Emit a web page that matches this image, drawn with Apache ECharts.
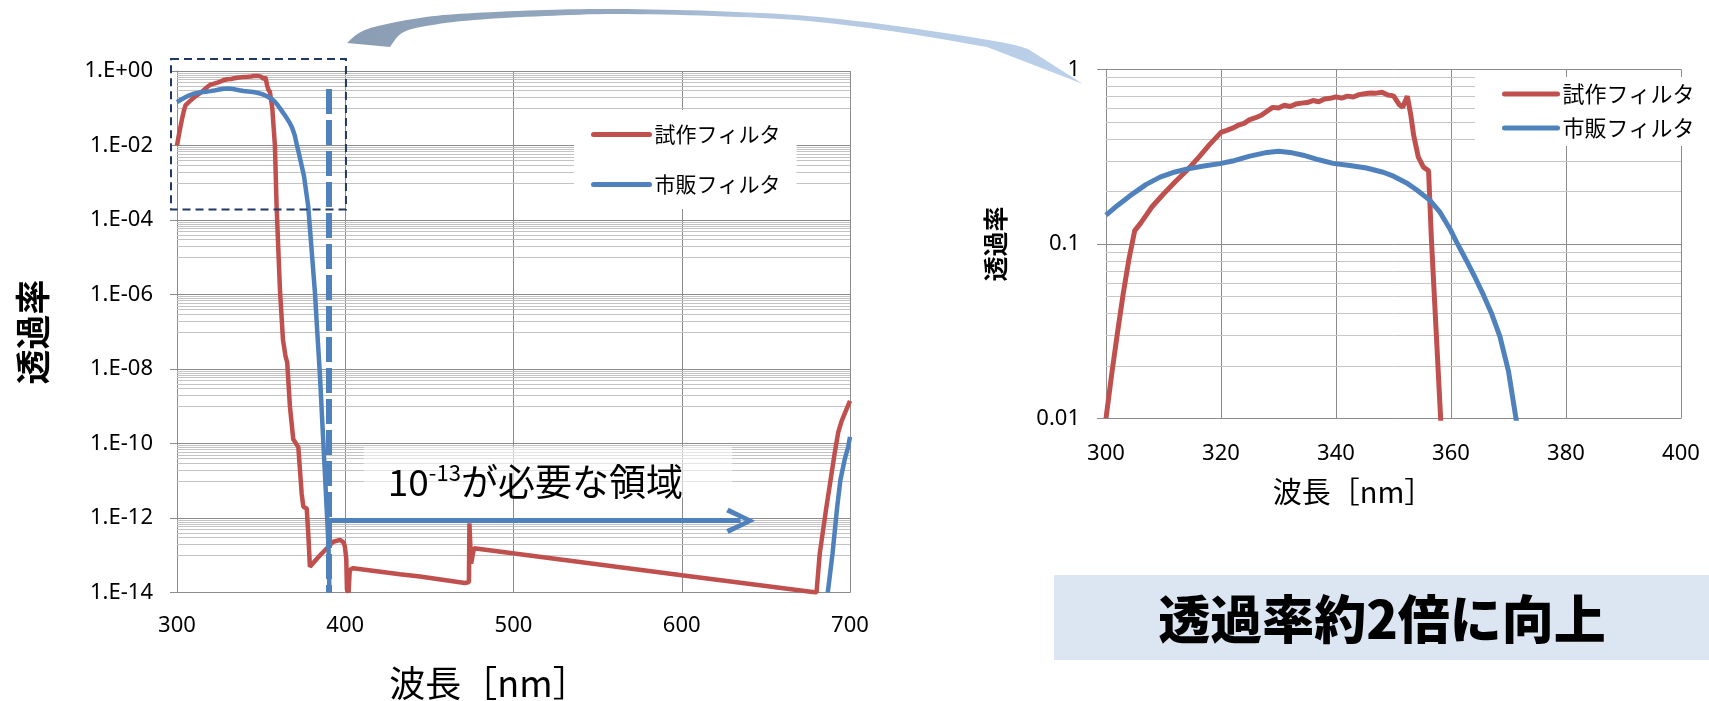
<!DOCTYPE html>
<html>
<head>
<meta charset="utf-8">
<script src="https://cdn.jsdelivr.net/npm/echarts@6/dist/echarts.min.js"></script>
<style>
  html, body { margin: 0; padding: 0; background: #ffffff; }
  #chart { width: 1709px; height: 701px; }
</style>
</head>
<body>
<div id="chart"></div>
<script>
// ---- data: wavelength [nm], transmittance ----
const prototypeFilter = [
  [300, 0.0100], [301, 0.018], [302, 0.031], [303, 0.052], [304, 0.082], [305, 0.119],
  [306, 0.131], [307, 0.146], [308, 0.163], [310, 0.193], [312, 0.226], [314, 0.262],
  [316, 0.31], [318, 0.37], [320, 0.435], [321, 0.447], [322, 0.46], [323, 0.478],
  [324, 0.49], [325, 0.515], [326, 0.528], [327, 0.545], [328, 0.575], [329, 0.605],
  [330, 0.600], [331, 0.622], [332, 0.612], [333, 0.632], [334, 0.640], [335, 0.645],
  [336, 0.662], [337, 0.652], [338, 0.676], [339, 0.682], [340, 0.695], [341, 0.684],
  [342, 0.702], [343, 0.694], [344, 0.716], [345, 0.724], [346, 0.732], [347, 0.730],
  [348, 0.738], [349, 0.712], [350, 0.704], [351, 0.628], [351.6, 0.605], [352.4, 0.70],
  [353.0, 0.55], [353.5, 0.42], [354.3, 0.315], [355.2, 0.275], [356.1, 0.262],
  [356.6, 0.105], [357.5, 0.028], [358.2, 0.0100], [359.2, 2.3e-4], [361.2, 1.3e-6],
  [363.0, 6e-8], [364.5, 2.2e-8], [365.5, 1.5e-8], [367.1, 1.0e-9], [369.1, 1.3e-10],
  [372.1, 8e-11], [374.1, 4.5e-12], [375.1, 2.0e-12], [377.1, 1.8e-12], [378.0, 3.9e-13],
  [379.0, 4.9e-14], [385.0, 1.0e-13], [392.9, 2.3e-13], [396.9, 2.6e-13], [399.0, 2.2e-13],
  [399.8, 1.7e-13], [400.6, 8e-14], [401.0, 1.2e-14], [402.0, 1.0e-14], [402.6, 3.5e-14],
  [403.2, 4.2e-14], [404.8, 4.5e-14], [432.5, 3.1e-14], [444.4, 2.7e-14], [471.1, 1.8e-14],
  [473.5, 1.9e-14], [473.8, 7.2e-13], [474.4, 7.2e-13], [474.8, 6.0e-14], [475.5, 5.8e-14],
  [476.5, 1.55e-13], [600.0, 2.9e-14], [680.1, 1.0e-14], [682.0, 1.1e-13], [686.0, 2.0e-12],
  [690.9, 5.5e-11], [693.0, 2.0e-10], [695.0, 4.0e-10], [700.0, 1.4e-9]
];

const commercialFilter = [
  [300, 0.146], [302, 0.166], [304.7, 0.194], [307, 0.219], [309.4, 0.241], [312, 0.258],
  [314, 0.268], [317, 0.279], [319.8, 0.288], [322, 0.298], [325, 0.318], [328, 0.334],
  [330, 0.339], [332, 0.334], [334.3, 0.322], [337, 0.303], [339.5, 0.289], [342.4, 0.281],
  [345.3, 0.272], [348.2, 0.257], [350, 0.244], [352.2, 0.224], [354, 0.204], [356.3, 0.178],
  [358, 0.153], [359.8, 0.122], [361, 0.102], [362.7, 0.080], [364, 0.066], [365.6, 0.0513],
  [367, 0.0403], [368.5, 0.0295], [370, 0.0186], [371.3, 0.0100], [372.5, 6.0e-3], [375.5, 1.5e-3],
  [378, 2.3e-4], [380, 1.6e-5], [382, 1.1e-6], [383.5, 8e-8], [385, 6.2e-9], [386.5, 2.8e-10],
  [388, 1.3e-11], [389, 1.6e-12], [390, 2.1e-13], [390.6, 1.0e-14], [391, null],
  [686.8, 1.0e-14], [689.6, 1.1e-13], [692.4, 2.0e-12], [694.3, 1.05e-11], [697.0, 4.0e-11],
  [698.9, 8.0e-11], [700.0, 1.5e-10]
];

const seriesNames = ['試作フィルタ', '市販フィルタ'];
const wideYTickLabels = ['1.E+00', '1.E-02', '1.E-04', '1.E-06', '1.E-08', '1.E-10', '1.E-12', '1.E-14'];
const zoomYTickLabels = ['1', '0.1', '0.01'];
const axisTitleX = '波長［nm］';
const axisTitleY = '透過率';

// annotation values on the wide chart
const cutoffWavelength = 390.3;     // vertical dashed marker
const cutoffTop = 0.33;
const requiredLevel = 8.5e-13;      // 10^-13 requirement arrow
const requiredEnd = 635;
const noteParts = ['10', '-13', 'が必要な領域'];
const resultText = '透過率約2倍に向上';

const RED = '#C0504D';
const BLUE = '#4F81BD';
const MAJOR = '#8C8C8C';
const MINOR = '#C3C3C3';
const LATIN = "'Noto Sans', 'Noto Sans CJK JP', sans-serif";
const CJK = "'Noto Sans CJK JP', 'Noto Sans', sans-serif";

const chart = echarts.init(document.getElementById('chart'), null, { renderer: 'canvas' });

// minor log gridlines (values only; positions come from the axis scale)
const wideMinor = [];
for (let n = 0; n < 7; n++) for (let k = 1; k <= 9; k++) wideMinor.push(k * Math.pow(10, -2 * n - 1));
const zoomMinor = [];
for (const d of [-2, -1]) for (let k = 2; k <= 9; k++) zoomMinor.push(k * Math.pow(10, d));

function gridSeries(idx, values, xmin, xmax, color) {
  return {
    type: 'custom', xAxisIndex: idx, yAxisIndex: idx, silent: true, z: 1,
    data: values.map(v => [xmin, v]),
    encode: { x: 0, y: 1 },
    renderItem(params, api) {
      const a = api.coord([xmin, api.value(1)]);
      const b = api.coord([xmax, api.value(1)]);
      const y = Math.round(a[1]) + 0.5;
      return { type: 'line', shape: { x1: a[0], y1: y, x2: b[0], y2: y },
               style: { stroke: color, lineWidth: 1 } };
    }
  };
}

const legendBase = {
  data: seriesNames, orient: 'vertical', backgroundColor: '#ffffff', selectedMode: false,
  itemStyle: { opacity: 0 },
  lineStyle: { width: 5, cap: 'round', opacity: 1 }
};

const option = {
  animation: false,
  backgroundColor: '#ffffff',
  grid: [
    { left: 177, top: 71, width: 673, height: 521.5 },
    { left: 1106, top: 69.3, width: 575, height: 349 }
  ],
  xAxis: [
    {
      type: 'value', gridIndex: 0, min: 300, max: 700, interval: 100,
      axisLine: { show: true, lineStyle: { color: MAJOR, width: 1 } },
      axisTick: { show: false },
      axisLabel: { fontSize: 22, color: '#000', fontFamily: LATIN, margin: 22 },
      splitLine: { show: true, lineStyle: { color: MAJOR, width: 1 } }
    },
    {
      type: 'value', gridIndex: 1, min: 300, max: 400, interval: 20,
      axisLine: { show: true, lineStyle: { color: MAJOR, width: 1 } },
      axisTick: { show: false },
      axisLabel: { fontSize: 22, color: '#000', fontFamily: LATIN, margin: 24 },
      splitLine: { show: true, lineStyle: { color: MAJOR, width: 1 } }
    }
  ],
  yAxis: [
    {
      type: 'log', logBase: 10, gridIndex: 0, min: 1e-14, max: 1, interval: 2,
      axisLine: { show: true, lineStyle: { color: MAJOR, width: 1 } },
      axisTick: { show: true, length: 7, lineStyle: { color: MAJOR } },
      axisLabel: {
        fontSize: 22, color: '#000', fontFamily: LATIN, margin: 24,
        formatter: v => wideYTickLabels[Math.round(-Math.log10(v) / 2)] || ''
      },
      splitLine: { show: true, lineStyle: { color: MAJOR, width: 1 } }
    },
    {
      type: 'log', logBase: 10, gridIndex: 1, min: 0.01, max: 1, interval: 1,
      axisLine: { show: true, lineStyle: { color: MAJOR, width: 1 } },
      axisTick: { show: true, length: 9, lineStyle: { color: MAJOR } },
      axisLabel: {
        fontSize: 22, color: '#000', fontFamily: LATIN, margin: 26,
        formatter: v => zoomYTickLabels[Math.round(-Math.log10(v))] || ''
      },
      splitLine: { show: true, lineStyle: { color: MAJOR, width: 1 } }
    }
  ],
  legend: [
    Object.assign({}, legendBase, {
      left: 574, top: 110, padding: [14, 16, 14, 17], itemGap: 29, itemWidth: 56, itemHeight: 20,
      textStyle: { fontSize: 21, color: '#000', fontFamily: CJK }
    }),
    Object.assign({}, legendBase, {
      left: 1475, top: 77, padding: [6, 6, 7, 27], itemGap: 12, itemWidth: 53, itemHeight: 22,
      textStyle: { fontSize: 22, color: '#000', fontFamily: CJK }
    })
  ],
  series: [
    gridSeries(0, wideMinor, 300, 700, MINOR),
    gridSeries(1, zoomMinor, 300, 400, '#C6C6C6'),
    {
      name: seriesNames[0], type: 'line', xAxisIndex: 0, yAxisIndex: 0, z: 3,
      data: prototypeFilter, symbol: 'none', clip: true,
      lineStyle: { color: RED, width: 4.5 }, itemStyle: { color: RED }
    },
    {
      name: seriesNames[1], type: 'line', xAxisIndex: 0, yAxisIndex: 0, z: 3,
      data: commercialFilter, symbol: 'none', clip: true, connectNulls: false,
      lineStyle: { color: BLUE, width: 4.5 }, itemStyle: { color: BLUE },
      markLine: {
        silent: true, animation: false, label: { show: false },
        symbol: ['none', 'none'],
        data: [
          [
            { coord: [cutoffWavelength, cutoffTop], lineStyle: { color: BLUE, width: 6, type: [25, 6] } },
            { coord: [cutoffWavelength, 1e-14] }
          ],
          [
            { coord: [cutoffWavelength, requiredLevel], symbol: 'none', lineStyle: { color: BLUE, width: 5, type: 'solid' } },
            { coord: [requiredEnd, requiredLevel], symbol: 'path://M13,0 L26,26 L21.5,28.5 L13,10 L4.5,28.5 L0,26 Z', symbolSize: [26, 29] }
          ]
        ]
      }
    },
    {
      name: seriesNames[0], type: 'line', xAxisIndex: 1, yAxisIndex: 1, z: 3,
      data: prototypeFilter, symbol: 'none', clip: true,
      lineStyle: { color: RED, width: 5 }, itemStyle: { color: RED }
    },
    {
      name: seriesNames[1], type: 'line', xAxisIndex: 1, yAxisIndex: 1, z: 3,
      data: commercialFilter, symbol: 'none', clip: true,
      lineStyle: { color: BLUE, width: 5 }, itemStyle: { color: BLUE }
    }
  ]
};

chart.setOption(option);

// ---- annotations placed from axis coordinates ----
function catmull(pts, steps) {
  const out = [];
  for (let i = 0; i < pts.length - 1; i++) {
    const p0 = pts[Math.max(i - 1, 0)], p1 = pts[i], p2 = pts[i + 1], p3 = pts[Math.min(i + 2, pts.length - 1)];
    for (let s = 0; s < steps; s++) {
      const t = s / steps, t2 = t * t, t3 = t2 * t;
      out.push([0, 1].map(j => 0.5 * ((2 * p1[j]) + (-p0[j] + p2[j]) * t +
        (2 * p0[j] - 5 * p1[j] + 4 * p2[j] - p3[j]) * t2 + (-p0[j] + 3 * p1[j] - 3 * p2[j] + p3[j]) * t3)));
    }
  }
  out.push(pts[pts.length - 1]);
  return out;
}

const outerEdge = [[347, 43], [359, 33], [378, 26], [426, 17], [474, 13], [545, 10], [617, 9],
                   [713, 11], [808, 16], [904, 27], [1000, 42], [1028, 49]];
const innerEdge = [[987, 47], [904, 33], [808, 21], [713, 16], [617, 14], [545, 16], [474, 20],
                   [426, 26], [402, 33], [390, 47]];
const arrowShape = catmull(outerEdge, 8).concat([[1083, 84]], catmull(innerEdge, 8));

const toPx = (g, x, y) => chart.convertToPixel({ gridIndex: g }, [x, y]);
const boxTL = toPx(0, 300, 1), boxBR = toPx(0, 400, 1.9e-4);
const noteTL = toPx(0, 411, 8e-11), noteBR = toPx(0, 624, 3.5e-12);

chart.setOption({
  graphic: [
    {
      type: 'polygon', z: 20, silent: true,
      shape: { points: arrowShape },
      style: {
        fill: new echarts.graphic.LinearGradient(0, 0, 1, 0, [
          { offset: 0, color: '#8A9DB3' }, { offset: 0.38, color: '#94A9C1' },
          { offset: 0.55, color: '#B3C7DF' }, { offset: 1, color: '#BBD0EA' }
        ])
      }
    },
    {
      type: 'rect', z: 20, silent: true,
      shape: { x: boxTL[0] - 6, y: boxTL[1] - 12, width: boxBR[0] - boxTL[0] + 6.7, height: boxBR[1] - boxTL[1] + 12 },
      style: { fill: 'none', stroke: '#1F3864', lineWidth: 2, lineDash: [8, 5] }
    },
    {
      type: 'rect', z: 15, silent: true,
      shape: { x: noteTL[0], y: noteTL[1], width: noteBR[0] - noteTL[0] + 10, height: noteBR[1] - noteTL[1] },
      style: { fill: 'rgba(255,255,255,0.55)' }
    },
    {
      type: 'text', z: 21, silent: true, x: noteTL[0] + 24, y: toPx(0, 500, 9.5e-12)[1],
      style: {
        text: '{a|' + noteParts[0] + '}{b|' + noteParts[1] + '}{a|' + noteParts[2] + '}',
        verticalAlign: 'middle', align: 'left', fill: '#000',
        rich: {
          a: { fontSize: 37, fontFamily: CJK, fill: '#000', lineHeight: 40 },
          b: { fontSize: 22, fontFamily: CJK, fill: '#000', verticalAlign: 'top', lineHeight: 23 }
        }
      }
    },
    {
      type: 'text', z: 21, silent: true, x: 33, y: 332, rotation: Math.PI / 2,
      style: { text: axisTitleY, fontSize: 35, fontWeight: 'bold', fontFamily: CJK, fill: '#000',
               align: 'center', verticalAlign: 'middle' }
    },
    {
      type: 'text', z: 21, silent: true, x: 489, y: 683,
      style: { text: axisTitleX, fontSize: 36, fontFamily: CJK, fill: '#000',
               align: 'center', verticalAlign: 'middle' }
    },
    {
      type: 'text', z: 21, silent: true, x: 995, y: 244, rotation: Math.PI / 2,
      style: { text: axisTitleY, fontSize: 25, fontWeight: 'bold', fontFamily: CJK, fill: '#000',
               align: 'center', verticalAlign: 'middle' }
    },
    {
      type: 'text', z: 21, silent: true, x: 1353, y: 492,
      style: { text: axisTitleX, fontSize: 29, fontFamily: CJK, fill: '#000',
               align: 'center', verticalAlign: 'middle' }
    },
    {
      type: 'rect', z: 20, silent: true,
      shape: { x: 1054, y: 575, width: 655, height: 85 },
      style: { fill: '#DCE6F2' }
    },
    {
      type: 'text', z: 21, silent: true, x: 1382, y: 619,
      style: { text: resultText, fontSize: 52, fontWeight: 900, fontFamily: CJK, fill: '#000',
               align: 'center', verticalAlign: 'middle' }
    }
  ]
});
</script>
</body>
</html>
